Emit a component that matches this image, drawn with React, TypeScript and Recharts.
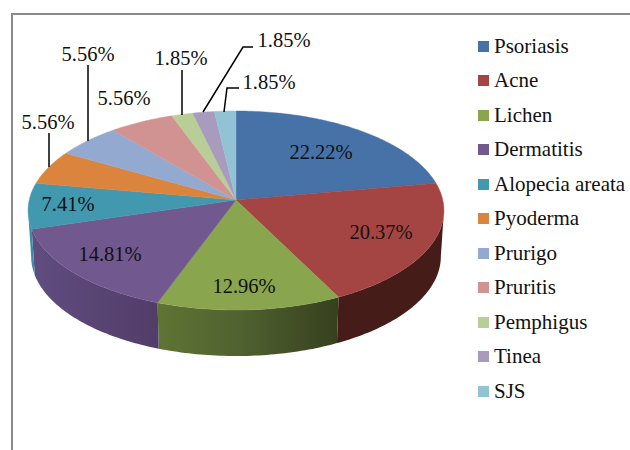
import React from "react";
import { PieChart, Pie, Legend } from "recharts";

const categories = [
  "Psoriasis",
  "Acne",
  "Lichen",
  "Dermatitis",
  "Alopecia areata",
  "Pyoderma",
  "Prurigo",
  "Pruritis",
  "Pemphigus",
  "Tinea",
  "SJS",
];
const shares = [22.22, 20.37, 12.96, 14.81, 7.41, 5.56, 5.56, 5.56, 1.85, 1.85, 1.85];
const colors = [
  "#4672a8",
  "#a54543",
  "#89a54e",
  "#71588f",
  "#4198af",
  "#db843d",
  "#93a9cf",
  "#d19392",
  "#b9cd96",
  "#a99bbd",
  "#92c3d5",
];
const wallFills = [
  "#2f4d72",
  "#461c18",
  "url(#wallLichen)",
  "url(#wallDermatitis)",
  "#3a8ba5",
  "#96592a",
  "#64738d",
  "#8e6463",
  "#7e8b66",
  "#736980",
  "#638591",
];

// hand placed in the original: [text centre x, baseline y], leader polyline
const labelSpots: { x: number; y: number; leader?: number[][] }[] = [
  { x: 321, y: 159 },
  { x: 381, y: 239 },
  { x: 244, y: 293 },
  { x: 110, y: 261 },
  { x: 68, y: 211 },
  { x: 48, y: 129, leader: [[49, 133], [49, 167]] },
  { x: 88, y: 61, leader: [[88, 65], [88, 141]] },
  { x: 124, y: 105 },
  { x: 181, y: 65, leader: [[182, 70], [182, 115]] },
  { x: 284, y: 47, leader: [[203, 112], [243, 47], [253, 47]] },
  { x: 269, y: 89, leader: [[224, 112], [227, 88], [239, 88]] },
];

const rows = categories.map((name, i) => ({ name, value: shares[i], fill: colors[i] }));

const FONT = '"Liberation Serif", "Times New Roman", serif';
const TILT = 0.476; // vertical squash of the disc
const PERSP = 0.1055; // far edge is smaller than the near edge
const DEPTH = 46;
const BOTTOM_X = 0.985;
const HORIZON = 96; // wall is visible between this angle and 360 - this

// angle is clockwise from 12 o'clock
const project = (cx: number, cy: number, r: number, deg: number) => {
  const t = (deg * Math.PI) / 180;
  const d = 1 + PERSP * Math.cos(t);
  return [cx + (r * Math.sin(t)) / d, cy - (r * TILT * Math.cos(t)) / d];
};

const arcPoints = (cx: number, cy: number, r: number, from: number, to: number) => {
  const steps = Math.max(2, Math.ceil(Math.abs(to - from)));
  const pts: number[][] = [];
  for (let i = 0; i <= steps; i++) {
    pts.push(project(cx, cy, r, from + ((to - from) * i) / steps));
  }
  return pts;
};

const toPath = (pts: number[][]) =>
  "M" + pts.map((p) => `${p[0].toFixed(2)},${p[1].toFixed(2)}`).join("L") + "Z";

const TopFace = (props: any) => {
  const { cx, cy, outerRadius, startAngle, endAngle, fill } = props;
  const pts = [[cx, cy], ...arcPoints(cx, cy, outerRadius, 90 - startAngle, 90 - endAngle)];
  return <path d={toPath(pts)} fill={fill} stroke={fill} strokeWidth={0.4} />;
};

const WallFace = (props: any) => {
  const { cx, cy, outerRadius, startAngle, endAngle, name } = props;
  const from = Math.max(90 - startAngle, HORIZON);
  const to = Math.min(90 - endAngle, 360 - HORIZON);
  if (to <= from) return <g />;
  const top = arcPoints(cx, cy, outerRadius, from, to);
  const bottom = arcPoints(cx, cy, outerRadius, from, to)
    .map((p) => [cx + (p[0] - cx) * BOTTOM_X, p[1] + DEPTH])
    .reverse();
  const wall = wallFills[categories.indexOf(name)];
  return <path d={toPath([...top, ...bottom])} fill={wall} />;
};

const renderLabel = (props: any) => {
  const spot = labelSpots[props.index];
  return (
    <g>
      {spot.leader && (
        <polyline
          points={spot.leader.map((p) => p.join(",")).join(" ")}
          fill="none"
          stroke="#000"
          strokeWidth={1.5}
        />
      )}
      <text x={spot.x} y={spot.y} textAnchor="middle" fontFamily={FONT} fontSize={20.5} fill="#111">
        {shares[props.index].toFixed(2)}%
      </text>
    </g>
  );
};

// both pies report their sectors, the legend only wants one entry each, in data order
const renderLegend = (props: any) => {
  const payload = props.payload || [];
  return (
    <div style={{ fontFamily: FONT, fontSize: 21, color: "#111" }}>
      {categories.map((name, i) => {
        const item = payload.find((p: any) => p.value === name);
        return (
          <div key={name} style={{ display: "flex", alignItems: "center", height: 34.5 }}>
            <span
              style={{
                width: 11,
                height: 11,
                background: item ? item.color : colors[i],
                marginRight: 5,
                flex: "none",
              }}
            />
            <span style={{ whiteSpace: "nowrap" }}>{name}</span>
          </div>
        );
      })}
    </div>
  );
};

export default function App() {
  return (
    <div
      style={{
        position: "absolute",
        left: 0,
        top: 0,
        width: 630,
        height: 450,
        overflow: "hidden",
        background: "#fff",
      }}
    >
      <div
        style={{
          position: "absolute",
          left: 11,
          top: 13,
          width: 660,
          height: 480,
          borderTop: "2px solid #8a8a8a",
          borderLeft: "2px solid #8a8a8a",
        }}
      />
      <div style={{ position: "absolute", left: 0, top: 0 }}>
        <PieChart width={630} height={450} margin={{ top: 0, right: 0, bottom: 0, left: 0 }}>
          <defs>
            <linearGradient id="wallLichen" x1="0" y1="0" x2="1" y2="0">
              <stop offset="0%" stopColor="#5f7434" />
              <stop offset="45%" stopColor="#506230" />
              <stop offset="100%" stopColor="#36401e" />
            </linearGradient>
            <linearGradient id="wallDermatitis" x1="0" y1="0" x2="1" y2="0">
              <stop offset="0%" stopColor="#604c80" />
              <stop offset="100%" stopColor="#523d68" />
            </linearGradient>
          </defs>
          <Pie
            data={rows}
            dataKey="value"
            nameKey="name"
            cx={236}
            cy={200}
            outerRadius={206.8}
            startAngle={90}
            endAngle={-270}
            stroke="none"
            legendType="none"
            shape={WallFace}
            label={false}
            labelLine={false}
            isAnimationActive={false}
          />
          <Pie
            data={rows}
            dataKey="value"
            nameKey="name"
            cx={236}
            cy={200}
            outerRadius={206.8}
            startAngle={90}
            endAngle={-270}
            stroke="none"
            shape={TopFace}
            label={renderLabel}
            labelLine={false}
            isAnimationActive={false}
          />
          <Legend
            content={renderLegend}
            layout="vertical"
            wrapperStyle={{ position: "absolute", left: 478, top: 29, width: 152 }}
          />
        </PieChart>
      </div>
    </div>
  );
}
